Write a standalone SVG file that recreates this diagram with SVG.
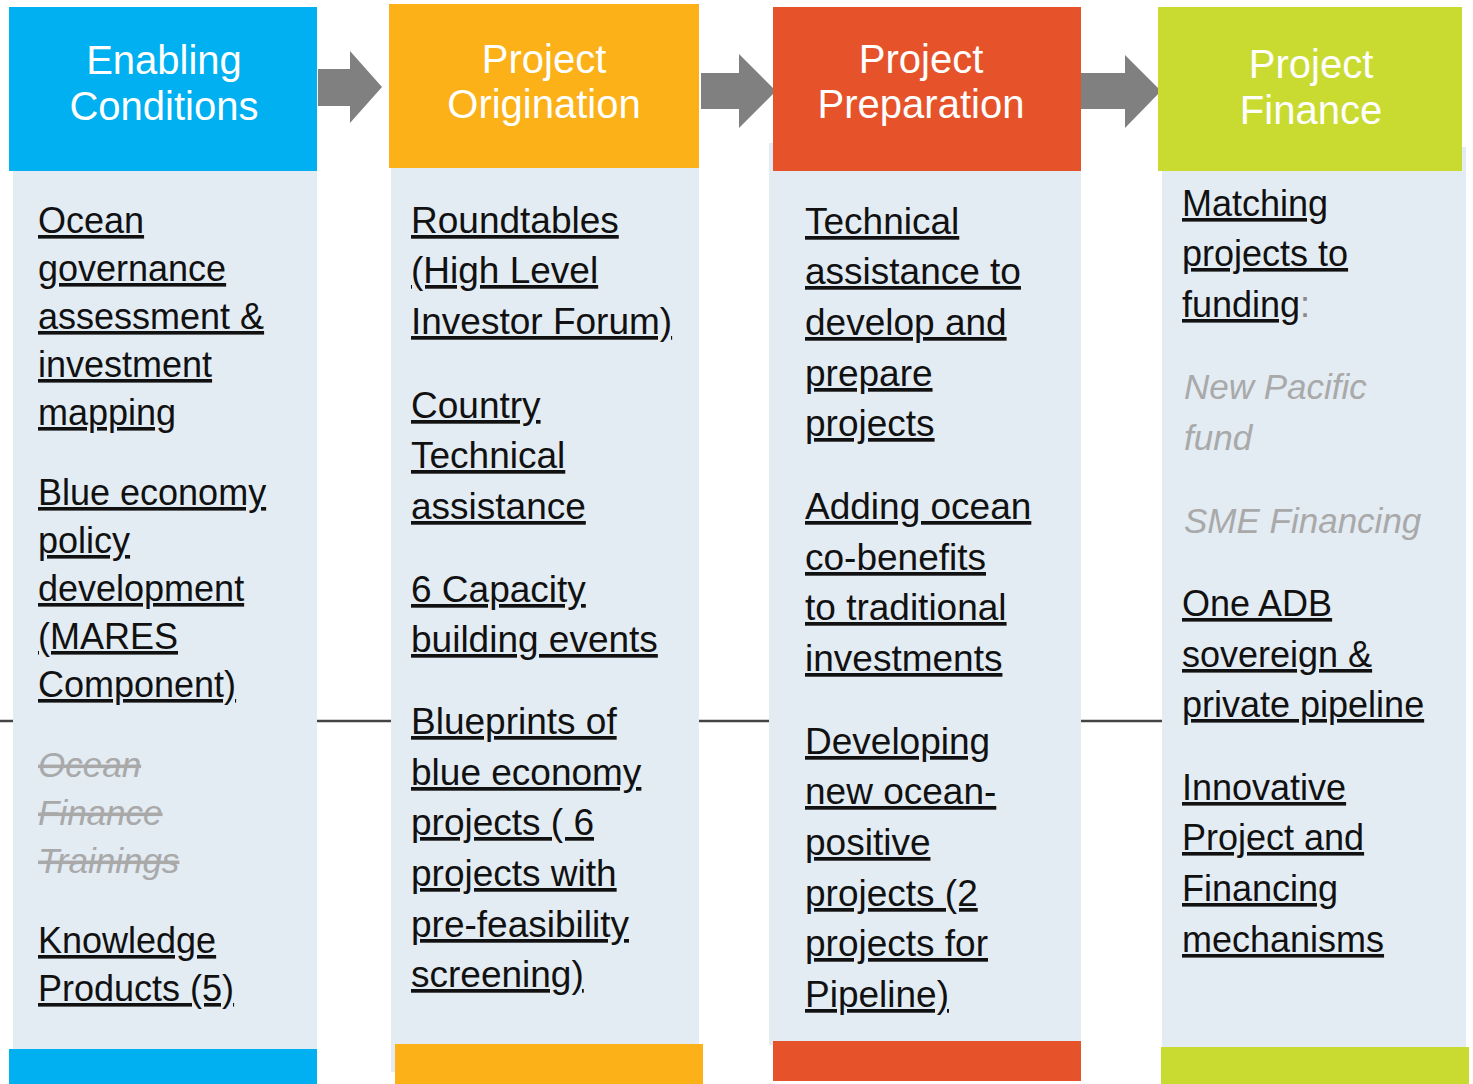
<svg xmlns="http://www.w3.org/2000/svg" width="1473" height="1084" viewBox="0 0 1473 1084">
<style>
.hd{font-family:"Liberation Sans",Arial,sans-serif;font-size:40px;fill:#fff;text-anchor:middle}
.tx{font-family:"Liberation Sans",Arial,sans-serif;font-size:36px;fill:#111;text-decoration:underline}
.t2{font-size:37px}
.gr{font-family:"Liberation Sans",Arial,sans-serif;font-size:35px;fill:#a9a9a9;font-style:italic}
.st{text-decoration:line-through}
.body{fill:#e3ebf3}
.arr{fill:#808080}
.ln{stroke:#444;stroke-width:2.5}
</style>
<rect width="1473" height="1084" fill="#fff"/>
<g id="connectors">
<line class="ln" x1="0" y1="721" x2="13" y2="721"/>
<line class="ln" x1="317" y1="721" x2="391" y2="721"/>
<line class="ln" x1="699" y1="721" x2="770" y2="721"/>
<line class="ln" x1="1081" y1="721" x2="1162" y2="721"/>
<polygon class="arr" points="318,69 350,69 350,51 382,87 350,123 350,106 318,106"/>
<polygon class="arr" points="701,73 739,73 739,54 776,91 739,128 739,109 701,109"/>
<polygon class="arr" points="1081,73 1125,73 1125,55 1161,91 1125,128 1125,109 1081,109"/>
</g>
<g id="enabling-conditions">
<rect class="body" x="13" y="171" width="304" height="878"/>
<rect x="9" y="7" width="308" height="164" fill="#00b0f0"/>
<rect x="9" y="1049" width="308" height="35" fill="#00b0f0"/>
<text class="hd" x="164" y="74">Enabling</text>
<text class="hd" x="164" y="120">Conditions</text>
<text class="tx" x="38" y="233">Ocean</text>
<text class="tx" x="38" y="281">governance</text>
<text class="tx" x="38" y="329">assessment &amp;</text>
<text class="tx" x="38" y="377">investment</text>
<text class="tx" x="38" y="425">mapping</text>
<text class="tx" x="38" y="505">Blue economy</text>
<text class="tx" x="38" y="553">policy</text>
<text class="tx" x="38" y="601">development</text>
<text class="tx" x="38" y="649">(MARES</text>
<text class="tx" x="38" y="697">Component)</text>
<text class="gr st" x="38" y="777">Ocean</text>
<text class="gr st" x="38" y="825">Finance</text>
<text class="gr st" x="38" y="873">Trainings</text>
<text class="tx" x="38" y="953">Knowledge</text>
<text class="tx" x="38" y="1001">Products (5)</text>
</g>
<g id="project-origination">
<rect class="body" x="391" y="168" width="308" height="904"/>
<rect x="389" y="4" width="310" height="164" fill="#fbb117"/>
<rect x="395" y="1044" width="308" height="40" fill="#fbb117"/>
<text class="hd" x="544" y="73">Project</text>
<text class="hd" x="544" y="118">Origination</text>
<text class="tx t2" x="411" y="233">Roundtables</text>
<text class="tx t2" x="411" y="283">(High Level</text>
<text class="tx t2" x="411" y="334">Investor Forum)</text>
<text class="tx t2" x="411" y="418">Country</text>
<text class="tx t2" x="411" y="468">Technical</text>
<text class="tx t2" x="411" y="519">assistance</text>
<text class="tx t2" x="411" y="602">6 Capacity</text>
<text class="tx t2" x="411" y="652">building events</text>
<text class="tx t2" x="411" y="734">Blueprints of</text>
<text class="tx t2" x="411" y="785">blue economy</text>
<text class="tx t2" x="411" y="835">projects ( 6</text>
<text class="tx t2" x="411" y="886">projects with</text>
<text class="tx t2" x="411" y="937">pre-feasibility</text>
<text class="tx t2" x="411" y="987">screening)</text>
</g>
<g id="project-preparation">
<rect class="body" x="769" y="143" width="312" height="902"/>
<rect x="773" y="7" width="308" height="164" fill="#e6532b"/>
<rect x="773" y="1041" width="308" height="40" fill="#e6532b"/>
<text class="hd" x="921" y="73">Project</text>
<text class="hd" x="921" y="118">Preparation</text>
<text class="tx t2" x="805" y="234">Technical</text>
<text class="tx t2" x="805" y="284">assistance to</text>
<text class="tx t2" x="805" y="335">develop and</text>
<text class="tx t2" x="805" y="386">prepare</text>
<text class="tx t2" x="805" y="436">projects</text>
<text class="tx t2" x="805" y="519">Adding ocean</text>
<text class="tx t2" x="805" y="570">co-benefits</text>
<text class="tx t2" x="805" y="620">to traditional</text>
<text class="tx t2" x="805" y="671">investments</text>
<text class="tx t2" x="805" y="754">Developing</text>
<text class="tx t2" x="805" y="804">new ocean-</text>
<text class="tx t2" x="805" y="855">positive</text>
<text class="tx t2" x="805" y="906">projects (2</text>
<text class="tx t2" x="805" y="956">projects for</text>
<text class="tx t2" x="805" y="1007">Pipeline)</text>
</g>
<g id="project-finance">
<rect class="body" x="1162" y="147" width="304" height="900"/>
<rect x="1158" y="7" width="304" height="164" fill="#c9db31"/>
<rect x="1161" y="1047" width="308" height="37" fill="#c9db31"/>
<text class="hd" x="1311" y="78">Project</text>
<text class="hd" x="1311" y="124">Finance</text>
<text class="tx" x="1182" y="216">Matching</text>
<text class="tx" x="1182" y="266">projects to</text>
<text x="1182" y="317" style="font-family:'Liberation Sans',Arial,sans-serif;font-size:36px"><tspan fill="#111" text-decoration="underline">funding</tspan><tspan fill="#888">:</tspan></text>
<text class="gr" x="1184" y="399">New Pacific</text>
<text class="gr" x="1184" y="450">fund</text>
<text class="gr" x="1184" y="533">SME Financing</text>
<text class="tx" x="1182" y="616">One ADB</text>
<text class="tx" x="1182" y="667">sovereign &amp;</text>
<text class="tx" x="1182" y="717">private pipeline</text>
<text class="tx" x="1182" y="800">Innovative</text>
<text class="tx" x="1182" y="850">Project and</text>
<text class="tx" x="1182" y="901">Financing</text>
<text class="tx" x="1182" y="952">mechanisms</text>
</g>
</svg>
